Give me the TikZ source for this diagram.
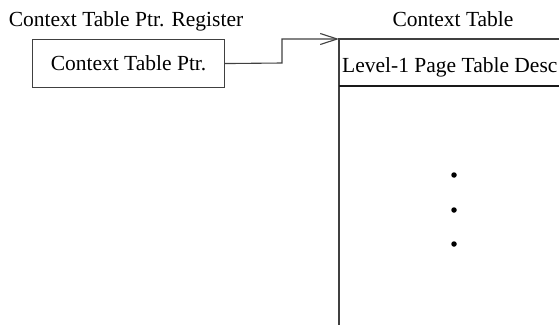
\documentclass[tikz,border=0pt]{standalone}
\usepackage{fontspec}
\setmainfont{Liberation Serif}
\usetikzlibrary{arrows.meta}
\begin{document}
\begin{tikzpicture}[x=1pt,y=-1pt,
  lbl/.style={inner sep=0pt,font=\fontsize{21.5}{24}\selectfont},
  frame/.style={draw=black!75,line width=1.1pt},
  dot/.style={circle,fill=black,inner sep=0pt,minimum size=5.5pt}]
\useasboundingbox (0,0) rectangle (559,324);
\clip (0,0) rectangle (559,324);
% register
\node[lbl,anchor=base] (reglbl) at (126,26) {Context Table Ptr. Register};
\node[frame,minimum width=192pt,minimum height=48pt,inner sep=0pt,anchor=north west] (reg) at (32,39) {};
\node[lbl,anchor=base] (regtxt) at (reg.center) [yshift=-7pt] {Context Table Ptr.};
% context table
\node[lbl,anchor=base] (tbllbl) at (453,26) {Context Table};
\coordinate (ct) at (339,39);
\coordinate (cb) at (339,330);
\coordinate (ctr) at (565,39);
\coordinate (dl) at (339,86);
\coordinate (dr) at (565,86);
\draw[frame] (ctr) -- (ct) -- (cb);
\draw[frame,line width=1.4pt,draw=black!90] (dl) -- (dr);
\node[lbl,anchor=base west] (l1) at (342,72) {Level-1 Page Table Desc};
% dots
\node[dot] (d1) at (454,175) {};
\node[dot] (d2) at (454,210) {};
\node[dot] (d3) at (454,244) {};
% connector
\coordinate (bend1) at (282,63);
\coordinate (bend2) at (282,39);
\draw[frame,-{Straight Barb[length=17pt,width=11pt,line width=1.1pt]}] (reg.east) -- (bend1) -- (bend2) -- (ct);
\end{tikzpicture}
\end{document}
